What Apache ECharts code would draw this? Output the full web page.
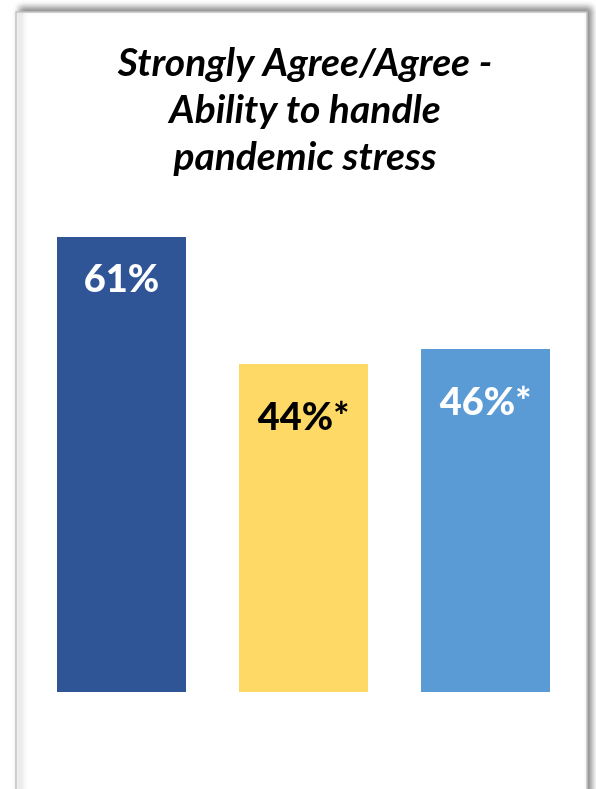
<!DOCTYPE html>
<html>
<head>
<meta charset="utf-8">
<script src="https://cdn.jsdelivr.net/npm/echarts@6/dist/echarts.min.js"></script>
<style>
  html, body { margin: 0; padding: 0; background: #ffffff; }
  #chart { width: 596px; height: 789px; }
</style>
</head>
<body>
<div id="chart"></div>
<script>
// Survey groups and their "Strongly Agree/Agree" shares (%)
const categories = ['Group A', 'Group B', 'Group C'];
const values = [61, 44, 46];
const valueLabels = ['61%', '44%*', '46%*'];
const barColors = ['#2F5597', '#FFD966', '#5B9BD5'];
const labelColors = ['#ffffff', '#000000', '#ffffff'];
const titleText = 'Strongly Agree/Agree -\nAbility to handle\npandemic stress';

const chart = echarts.init(document.getElementById('chart'), null, { renderer: 'canvas' });

const seriesData = values.map((v, i) => ({
  value: v,
  itemStyle: { color: barColors[i] },
  label: {
    color: labelColors[i],
    distance: i === 0 ? 24 : 35,
    formatter: valueLabels[i]
  }
}));

chart.setOption({
  animation: false,
  backgroundColor: '#ffffff',
  graphic: [{
    type: 'rect',
    z: -10,
    shape: { x: 16, y: 12, width: 571, height: 820 },
    style: {
      fill: '#ffffff',
      stroke: '#c4c4c4',
      lineWidth: 1.5,
      shadowBlur: 6,
      shadowOffsetX: 4,
      shadowOffsetY: -4,
      shadowColor: 'rgba(0,0,0,0.45)'
    }
  }],
  title: {
    text: titleText,
    left: 300,
    top: 35,
    textAlign: 'center',
    textStyle: {
      fontFamily: 'Lato',
      fontStyle: 'italic',
      fontWeight: 'bold',
      fontSize: 39,
      lineHeight: 47,
      color: '#000000'
    }
  },
  grid: { left: 30.5, right: 19.5, top: 170, bottom: 97, containLabel: false },
  xAxis: {
    type: 'category',
    data: categories,
    axisLine: { show: false },
    axisTick: { show: false },
    axisLabel: { show: false },
    splitLine: { show: false }
  },
  yAxis: {
    type: 'value',
    min: 0,
    max: 70,
    show: false,
    splitLine: { show: false }
  },
  series: [{
    type: 'bar',
    data: seriesData,
    barWidth: 129,
    label: {
      show: true,
      position: 'insideTop',
      fontFamily: 'Lato',
      fontWeight: 900,
      fontSize: 38
    }
  }]
});
</script>
</body>
</html>
